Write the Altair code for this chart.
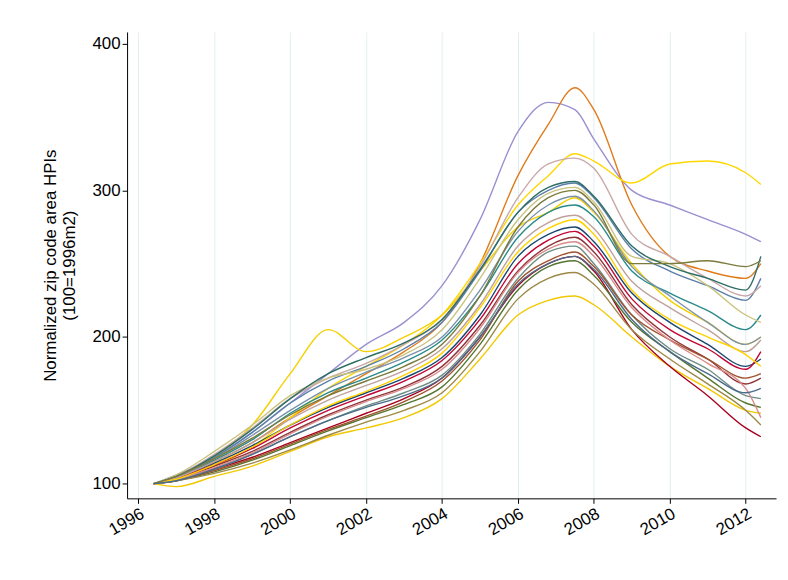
import altair as alt
import pandas as pd

# time points (decimal years)
t = [1996.4, 1997, 1998, 1999, 2000, 2001, 2002, 2003, 2004, 2005, 2006,
     2006.8, 2007.5, 2008, 2009, 2010, 2011, 2012, 2012.4]

# a selection of zip code series
s01 = [100, 106, 118, 135, 155, 175, 195, 210, 235, 280, 340, 360, 355, 335, 300, 290, 280, 270, 265]
s02 = [100, 104, 115, 128, 145, 160, 175, 190, 210, 250, 310, 345, 370, 355, 290, 255, 245, 240, 250]
s03 = [100, 104, 112, 125, 145, 165, 180, 195, 215, 250, 290, 310, 325, 320, 305, 318, 320, 312, 304]
s04 = [100, 104, 118, 140, 175, 205, 190, 200, 215, 245, 275, 285, 295, 285, 250, 225, 210, 195, 200]
s05 = [100, 98, 105, 112, 122, 132, 138, 145, 158, 185, 215, 225, 228, 222, 200, 180, 165, 150, 148]
s06 = [100, 103, 110, 118, 128, 138, 148, 158, 172, 200, 235, 250, 255, 245, 205, 180, 160, 138, 132]
s07 = [100, 105, 118, 135, 155, 170, 180, 192, 210, 245, 285, 300, 305, 295, 260, 245, 235, 225, 240]
s08 = [100, 104, 114, 126, 140, 152, 162, 172, 186, 215, 255, 270, 275, 265, 230, 210, 195, 180, 185]
s09 = [100, 103, 112, 122, 135, 147, 157, 166, 180, 208, 245, 262, 268, 258, 222, 200, 185, 168, 172]
s10 = [100, 102, 108, 116, 126, 136, 145, 154, 166, 195, 232, 248, 252, 242, 210, 190, 172, 155, 152]
s11 = [100, 105, 120, 138, 158, 172, 182, 195, 212, 248, 295, 318, 322, 315, 270, 255, 240, 228, 235]
s12 = [100, 104, 116, 130, 148, 162, 172, 183, 198, 228, 268, 285, 290, 282, 245, 230, 218, 205, 215]
s13 = [100, 103, 110, 120, 132, 143, 153, 162, 174, 202, 240, 258, 262, 250, 215, 192, 178, 160, 158]
s14 = [100, 104, 113, 124, 138, 150, 160, 170, 184, 212, 250, 266, 272, 262, 226, 205, 192, 178, 190]
s15 = [100, 106, 122, 140, 160, 172, 178, 188, 205, 240, 280, 298, 302, 292, 255, 250, 235, 215, 210]
s16 = [100, 102, 109, 117, 127, 137, 146, 156, 170, 198, 238, 252, 258, 248, 215, 198, 185, 172, 175]
s17 = [100, 104, 117, 133, 150, 165, 176, 186, 200, 232, 272, 290, 296, 286, 248, 228, 210, 195, 200]
s18 = [100, 103, 111, 121, 134, 146, 156, 165, 178, 206, 244, 260, 265, 255, 220, 198, 182, 165, 145]
s19 = [100, 105, 119, 137, 158, 175, 186, 196, 212, 246, 285, 302, 306, 296, 262, 248, 240, 232, 255]
s20 = [100, 102, 107, 114, 123, 133, 142, 150, 162, 190, 226, 240, 244, 236, 205, 185, 168, 150, 140]
s21 = [100, 104, 115, 128, 144, 157, 167, 177, 192, 222, 262, 278, 283, 274, 238, 220, 205, 190, 198]
s22 = [100, 103, 113, 125, 140, 153, 163, 174, 189, 220, 258, 274, 280, 270, 232, 212, 200, 188, 180]
s23 = [100, 105, 117, 131, 147, 160, 170, 180, 195, 228, 275, 295, 300, 290, 250, 250, 252, 248, 252]
s24 = [100, 102, 110, 120, 132, 143, 152, 160, 172, 200, 236, 250, 255, 246, 212, 190, 175, 162, 165]

series = [s01, s02, s03, s04, s05, s06, s07, s08, s09, s10, s11, s12,
          s13, s14, s15, s16, s17, s18, s19, s20, s21, s22, s23, s24]

colors = ["#9a8fd0", "#e07b1a", "#ffd700", "#f5d000", "#f2c800", "#a8001e",
          "#5b7fa8", "#1a476f", "#90353b", "#55752f", "#c8a8a8", "#2a8a8a",
          "#6e8e84", "#c10534", "#cac27e", "#a0522d", "#7b92a8", "#d98c8c",
          "#2d6d66", "#9c8847", "#bfa19c", "#ffd200", "#7a7a3a", "#4b6b8a"]

rows = []
for i, s in enumerate(series):
    for x, v in zip(t, s):
        rows.append({"zip": f"z{i:02d}", "year": x, "hpi": v})
df = pd.DataFrame(rows)

chart = alt.Chart(df).mark_line(strokeWidth=1.4, interpolate="monotone").encode(
    x=alt.X("year:Q", scale=alt.Scale(domain=[1995.7, 2012.8], nice=False),
            axis=alt.Axis(values=list(range(1996, 2013, 2)), format="d", title=None,
                          labelAngle=-30, labelAlign="right", labelFontSize=17,
                          grid=True, gridColor="#e3eef2", tickColor="black",
                          domainColor="black", labelColor="black")),
    y=alt.Y("hpi:Q", scale=alt.Scale(domain=[90, 408], nice=False),
            axis=alt.Axis(values=[100, 200, 300, 400], title=["Normalized zip code area HPIs", "(100=1996m2)"],
                          titleFontSize=17, titleFontWeight="normal", labelFontSize=17,
                          grid=False, tickColor="black", domainColor="black",
                          labelColor="black", titleColor="black", titlePadding=14)),
    color=alt.Color("zip:N", scale=alt.Scale(range=colors), legend=None),
).properties(
    width=654, height=470,
    autosize=alt.AutoSizeParams(type="none"),
    padding={"left": 120, "top": 22, "right": 4, "bottom": 60}
).configure_view(stroke=None).configure_axis(labelFont="Arial", titleFont="Arial")

chart.save("out.html", embed_options={"renderer": "svg", "actions": False})
